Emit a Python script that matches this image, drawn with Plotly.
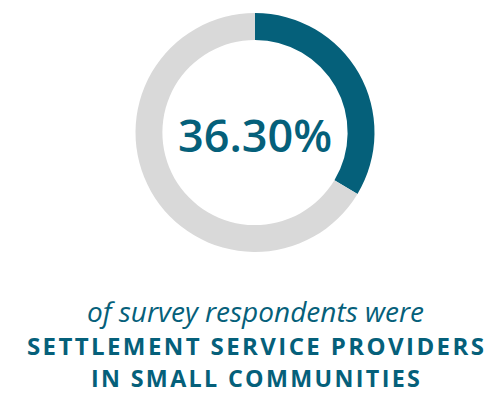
import plotly.graph_objects as go

labels = ["Settlement service providers in small communities", "Other respondents"]
# arc share as drawn in the reference (the printed label reads 36.30%)
values = [33.6, 66.4]
colors = ["#05607a", "#d9d9d9"]
center_label = "36.30%"
line1 = "of survey respondents were"
line2 = "SETTLEMENT SERVICE PROVIDERS"
line3 = "IN SMALL COMMUNITIES"

W, H = 487, 394
fig = go.Figure(go.Pie(
    labels=labels, values=values, hole=0.775, sort=False,
    direction="clockwise", rotation=0,
    marker=dict(colors=colors, line=dict(width=0)),
    textinfo="none", hoverinfo="label",
    domain=dict(x=[135/W, 375/W], y=[1-252/H, 1-13/H]),
    showlegend=False,
))

def spaced(s, sp="\u200a"):
    return sp.join(list(s))

teal = "#05607a"
fig.add_annotation(x=255/W, y=1-134/H, xref="paper", yref="paper", text=center_label,
                   showarrow=False, font=dict(family="Open Sans", size=45, color=teal, weight=600),
                   xanchor="center", yanchor="middle")
fig.add_annotation(x=255/W, y=1-311/H, xref="paper", yref="paper", text="<i>"+line1+"</i>",
                   showarrow=False, font=dict(family="Open Sans", size=28, color=teal),
                   xanchor="center", yanchor="middle")
fig.add_annotation(x=255/W, y=1-345/H, xref="paper", yref="paper", text="<b>"+spaced(line2)+"</b>",
                   showarrow=False, font=dict(family="Open Sans", size=24, color=teal),
                   xanchor="center", yanchor="middle")
fig.add_annotation(x=255/W, y=1-378/H, xref="paper", yref="paper", text="<b>"+spaced(line3)+"</b>",
                   showarrow=False, font=dict(family="Open Sans", size=23.3, color=teal),
                   xanchor="center", yanchor="middle")

fig.update_layout(width=W, height=H, margin=dict(l=0, r=0, t=0, b=0),
                  paper_bgcolor="white", plot_bgcolor="white")
fig.write_html("out.html")
